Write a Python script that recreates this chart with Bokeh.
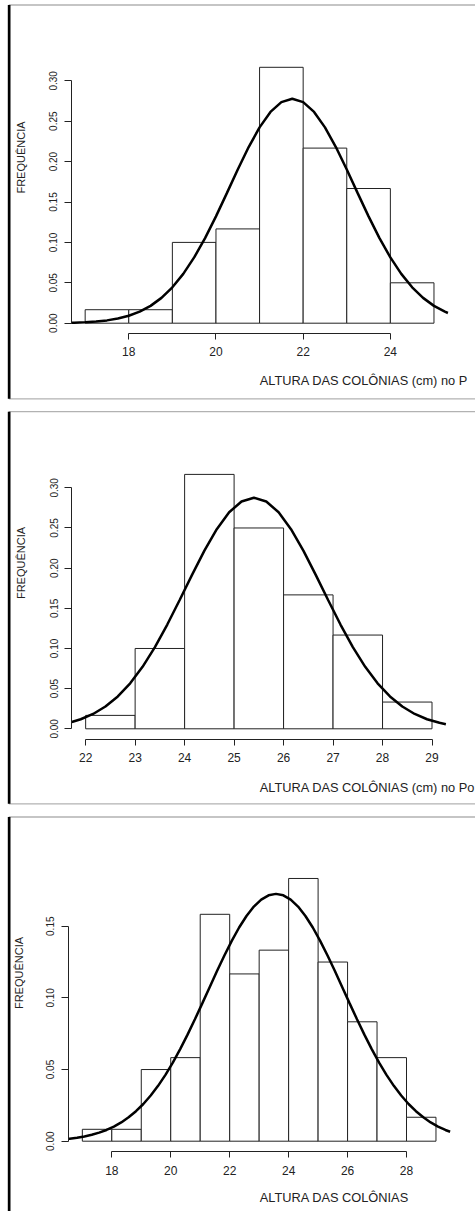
import numpy as np
from bokeh.plotting import figure
from bokeh.models import Range1d, FixedTicker, PrintfTickFormatter, Label, BoxAnnotation
from bokeh.layouts import column
from bokeh.embed import file_html
from bokeh.resources import INLINE

# ---------------- data ----------------
# Panel 1
p1_edges = [17, 18, 19, 20, 21, 22, 23, 24, 25]
p1_dens = [0.0167, 0.0167, 0.1000, 0.1167, 0.3167, 0.2167, 0.1667, 0.0500]
p1_curve_x = [16.68, 16.75, 17.00, 17.25, 17.50, 17.75, 18.00, 18.25, 18.50, 18.75,
              19.00, 19.25, 19.50, 19.75, 20.00, 20.25, 20.50, 20.75, 21.00, 21.25,
              21.50, 21.75, 22.00, 22.25, 22.50, 22.75, 23.00, 23.25, 23.50, 23.75,
              24.00, 24.25, 24.50, 24.75, 25.00, 25.25, 25.32]
p1_curve_y = [0.00054, 0.00065, 0.00117, 0.00205, 0.00348, 0.00574, 0.00918, 0.01425, 0.02145, 0.03134,
              0.04440, 0.06104, 0.08140, 0.10531, 0.13221, 0.16098, 0.19020, 0.21799, 0.24238, 0.26146,
              0.27362, 0.27780, 0.27362, 0.26146, 0.24238, 0.21799, 0.19020, 0.16098, 0.13221, 0.10531,
              0.08140, 0.06104, 0.04440, 0.03134, 0.02145, 0.01425, 0.01264]
p1_xticks = [18, 20, 22, 24]
p1_yticks = [0.00, 0.05, 0.10, 0.15, 0.20, 0.25, 0.30]

# Panel 2
p2_edges = [22, 23, 24, 25, 26, 27, 28, 29]
p2_dens = [0.0167, 0.1000, 0.3167, 0.2500, 0.1667, 0.1167, 0.0333]
p2_curve_x = [21.72, 21.90, 22.15, 22.40, 22.65, 22.90, 23.15, 23.40, 23.65, 23.90,
              24.15, 24.40, 24.65, 24.90, 25.15, 25.40, 25.65, 25.90, 26.15, 26.40,
              26.65, 26.90, 27.15, 27.40, 27.65, 27.90, 28.15, 28.40, 28.65, 28.90,
              29.15, 29.28]
p2_curve_y = [0.00852, 0.01191, 0.01848, 0.02773, 0.04029, 0.05667, 0.07717, 0.10170, 0.12977, 0.16027,
              0.19162, 0.22179, 0.24851, 0.26954, 0.28300, 0.28763, 0.28300, 0.26954, 0.24851, 0.22179,
              0.19162, 0.16027, 0.12977, 0.10170, 0.07717, 0.05667, 0.04029, 0.02773, 0.01848, 0.01191,
              0.00744, 0.00575]
p2_xticks = [22, 23, 24, 25, 26, 27, 28, 29]
p2_yticks = [0.00, 0.05, 0.10, 0.15, 0.20, 0.25, 0.30]

# Panel 3
p3_edges = [17, 18, 19, 20, 21, 22, 23, 24, 25, 26, 27, 28, 29]
p3_dens = [0.0083, 0.0083, 0.0500, 0.0583, 0.1583, 0.1167, 0.1333, 0.1833, 0.1250, 0.0833, 0.0583, 0.0167]
p3_curve_x = [16.52, 16.57, 16.82, 17.07, 17.32, 17.57, 17.82, 18.07, 18.32, 18.57, 18.82,
              19.07, 19.32, 19.57, 19.82, 20.07, 20.32, 20.57, 20.82, 21.07, 21.32,
              21.57, 21.82, 22.07, 22.32, 22.57, 22.82, 23.07, 23.32, 23.57, 23.82,
              24.07, 24.32, 24.57, 24.82, 25.07, 25.32, 25.57, 25.82, 26.07, 26.32,
              26.57, 26.82, 27.07, 27.32, 27.57, 27.82, 28.07, 28.32, 28.57, 28.82,
              29.07, 29.32, 29.48]
p3_curve_y = [0.00165, 0.00176, 0.00243, 0.00332, 0.00447, 0.00595, 0.00783, 0.01019, 0.01310, 0.01665, 0.02091,
              0.02596, 0.03185, 0.03863, 0.04631, 0.05486, 0.06424, 0.07435, 0.08506, 0.09617, 0.10747,
              0.11870, 0.12957, 0.13980, 0.14909, 0.15714, 0.16371, 0.16856, 0.17154, 0.17255, 0.17154,
              0.16856, 0.16371, 0.15714, 0.14909, 0.13980, 0.12957, 0.11870, 0.10747, 0.09617, 0.08506,
              0.07435, 0.06424, 0.05486, 0.04631, 0.03863, 0.03185, 0.02596, 0.02091, 0.01665, 0.01310,
              0.01019, 0.00783, 0.00658]
p3_xticks = [18, 20, 22, 24, 26, 28]
p3_yticks = [0.00, 0.05, 0.10, 0.15]

ylabel = "FREQUÊNCIA"
xlabels = ["ALTURA DAS COLÔNIAS (cm) no P", "ALTURA DAS COLÔNIAS (cm) no Po", "ALTURA DAS COLÔNIAS"]

FONT = "Liberation Sans"
INK = "#222222"
W = 475


def panel(edges, dens, cx, cy, xticks, yticks, xlabel, layout):
    H = layout["H"]
    x0, ppx, y0px, ppy = layout["x0"], layout["ppx"], layout["y0px"], layout["ppy"]

    def dx(px):
        return x0 + px / ppx

    def dy(py):
        return (y0px - py) / ppy

    p = figure(width=W, height=H, x_range=Range1d(dx(0), dx(W)), y_range=Range1d(dy(H), dy(0)),
               output_backend="svg", toolbar_location=None, min_border=0,
               min_border_left=0, min_border_right=0, min_border_top=0, min_border_bottom=0)
    p.outline_line_color = None
    p.grid.visible = False
    p.background_fill_color = "white"
    p.border_fill_color = "white"

    p.quad(left=edges[:-1], right=edges[1:], bottom=0, top=dens,
           fill_color="white", line_color=INK, line_width=1)
    p.line(cx, cy, line_color="black", line_width=2.5)

    # axes, R style (detached, spanning first..last tick)
    ax = p.xaxis[0]
    ax.fixed_location = layout["xaxis_y"]
    ax.bounds = (xticks[0], xticks[-1])
    ax.ticker = FixedTicker(ticks=xticks)
    ax.minor_tick_line_color = None
    ax.major_tick_in = 0
    ax.major_tick_out = 6
    ax.axis_line_color = INK
    ax.major_tick_line_color = INK
    ax.major_label_text_font = FONT
    ax.major_label_text_font_size = "12px"
    ax.major_label_text_color = INK
    ax.major_label_standoff = 8

    ay = p.yaxis[0]
    ay.fixed_location = layout["yaxis_x"]
    ay.bounds = (yticks[0], yticks[-1])
    ay.ticker = FixedTicker(ticks=yticks)
    ay.formatter = PrintfTickFormatter(format="%.2f")
    ay.minor_tick_line_color = None
    ay.major_tick_in = 0
    ay.major_tick_out = 7
    ay.axis_line_color = INK
    ay.major_tick_line_color = INK
    ay.major_label_orientation = "vertical"
    ay.major_label_text_font = FONT
    ay.major_label_text_font_size = "10px"
    ay.major_label_text_color = INK
    ay.major_label_standoff = 7

    # panel frame
    p.add_layout(BoxAnnotation(left=dx(8.6), right=dx(W + 200), top=dy(layout["top"]), bottom=dy(layout["bottom"]),
                               fill_color=None, line_color="black", line_width=1.3))
    p.add_layout(BoxAnnotation(left=dx(7.3), right=dx(10.0), top=dy(layout["top"]), bottom=dy(layout["bottom"]),
                               fill_color="black", fill_alpha=1.0, line_color=None))

    p.add_layout(Label(x=dx(layout["ylab"][0]), y=dy(layout["ylab"][1]), text=ylabel, angle=np.pi / 2,
                       text_align="center", text_baseline="middle", text_font=FONT,
                       text_font_size="11px", text_color=INK))
    p.add_layout(Label(x=dx(layout["xlab"][0]), y=dy(layout["xlab"][1]), text=xlabel,
                       text_align="left", text_baseline="middle", text_font=FONT,
                       text_font_size="12.8px", text_color=INK))
    return p


L1 = dict(H=404, x0=15.058, ppx=43.6, y0px=322.7, ppy=808.0, xaxis_y=-0.0127, yaxis_x=16.68,
          top=4.5, bottom=398.3, ylab=(20, 157), xlab=(259.3, 380))
L2 = dict(H=406, x0=20.279, ppx=49.48, y0px=324.3, ppy=803.3, xaxis_y=-0.0127, yaxis_x=21.72,
          top=7.2, bottom=399.3, ylab=(20, 158.5), xlab=(259.3, 382.7))
L3 = dict(H=401, x0=14.223, ppx=29.47, y0px=330.7, ppy=1433.3, xaxis_y=-0.0073, yaxis_x=16.52,
          top=6.5, bottom=480, ylab=(18.3, 162.5), xlab=(259.3, 386.7))

p1 = panel(p1_edges, p1_dens, p1_curve_x, p1_curve_y, p1_xticks, p1_yticks, xlabels[0], L1)
p2 = panel(p2_edges, p2_dens, p2_curve_x, p2_curve_y, p2_xticks, p2_yticks, xlabels[1], L2)
p3 = panel(p3_edges, p3_dens, p3_curve_x, p3_curve_y, p3_xticks, p3_yticks, xlabels[2], L3)

layout = column(p1, p2, p3, spacing=0)
open("out.html", "w").write(file_html(layout, INLINE))
